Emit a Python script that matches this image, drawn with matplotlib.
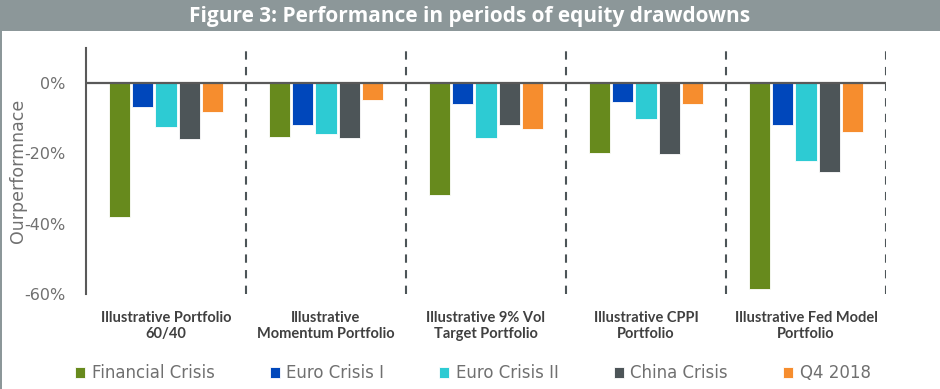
import matplotlib.pyplot as plt
import numpy as np
from matplotlib.patches import Rectangle

# Portfolios (x-axis groups)
portfolios = ['Illustrative Portfolio\n60/40',
              'Illustrative\nMomentum Portfolio',
              'Illustrative 9% Vol\nTarget Portfolio',
              'Illustrative CPPI\nPortfolio',
              'Illustrative Fed Model\nPortfolio']

# Drawdown episodes and their performance (%) per portfolio
episodes = ['Financial Crisis', 'Euro Crisis I', 'Euro Crisis II', 'China Crisis', 'Q4 2018']
financial_crisis = [-38.2, -15.4, -31.8, -19.8, -58.7]
euro_crisis_1 = [-6.9, -12.0, -5.9, -5.4, -11.9]
euro_crisis_2 = [-12.6, -14.6, -15.5, -10.1, -22.1]
china_crisis = [-16.0, -15.7, -11.9, -20.2, -25.3]
q4_2018 = [-8.2, -4.8, -13.1, -5.9, -13.9]

series = [financial_crisis, euro_crisis_1, euro_crisis_2, china_crisis, q4_2018]
colors = ['#678a1d', '#0047bb', '#2dcbd3', '#4d5558', '#f68d2e']

fig = plt.figure(figsize=(9.4, 3.89), dpi=100)
plt.rcParams['font.family'] = ['Lato', 'DejaVu Sans']

# grey title band and left frame line
fig.patches.append(Rectangle((0, 0.920), 1, 0.080, transform=fig.transFigure,
                             facecolor='#8c9799', edgecolor='none', zorder=0))
fig.patches.append(Rectangle((0, 0), 0.0025, 0.92, transform=fig.transFigure,
                             facecolor='#8c9799', edgecolor='none', zorder=0))
fig.text(0.5, 0.958, 'Figure 3: Performance in periods of equity drawdowns',
         ha='center', va='center', color='white', fontsize=15, fontweight='bold',
         family='Open Sans')

ax = fig.add_axes([0.0915, 0.2442, 0.851, 0.6324])

x = np.arange(len(portfolios))
step = 0.146
width = 0.134
for i, (vals, name, c) in enumerate(zip(series, episodes, colors)):
    ax.bar(x + (i - 2) * step, vals, width, color=c, label=name,
           edgecolor='white', linewidth=0.6, zorder=2)

ax.set_xlim(-0.5, len(portfolios) - 0.5)
ax.set_ylim(-60, 10)
ax.set_yticks([0, -20, -40, -60])
ax.set_yticklabels(['0%', '-20%', '-40%', '-60%'], family='DejaVu Sans')
ax.tick_params(axis='y', length=0, labelsize=11.5, labelcolor='#707070', pad=15)
ax.set_xticks(x)
ax.set_xticklabels(portfolios, fontweight='bold', fontsize=10.5, color='#404040')
ax.tick_params(axis='x', length=0, pad=12)
ax.set_ylabel('Ourperformnace', fontsize=12.5, color='#707070', family='DejaVu Sans')
ax.yaxis.set_label_coords(-0.074, 0.5)

for s in ['top', 'right', 'bottom']:
    ax.spines[s].set_visible(False)
ax.spines['left'].set_color('#595959')
ax.spines['left'].set_linewidth(1.5)

ax.axhline(0, color='#595959', linewidth=1.6, zorder=3)
for b in np.arange(0.5, len(portfolios), 1):
    ax.axvline(b, color='#4d5558', linewidth=1.5, linestyle=(0, (4, 3.5)), zorder=1)

ax.legend(loc='center', bbox_to_anchor=(0.503, 0.04), bbox_transform=fig.transFigure,
          ncol=5, frameon=False, prop={'family': 'DejaVu Sans', 'size': 12},
          handlelength=0.6, handleheight=0.6,
          handletextpad=0.4, columnspacing=3.3, labelcolor='#707070')

fig.savefig('out.png', dpi=100)
